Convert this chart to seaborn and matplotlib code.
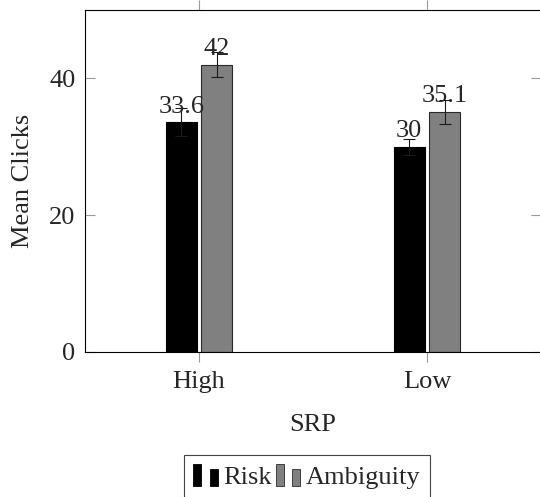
import matplotlib
matplotlib.use("Agg")
import matplotlib.pyplot as plt
import seaborn as sns
import pandas as pd
from matplotlib.legend_handler import HandlerBase
from matplotlib.patches import Rectangle

# ---- data ----
srp = ["High", "Low"]
conditions = ["Risk", "Ambiguity"]
risk_means = [33.6, 30.0]
ambiguity_means = [42.0, 35.1]
risk_err = [2.0, 1.2]
ambiguity_err = [1.8, 1.8]
risk_labels = ["33.6", "30"]
ambiguity_labels = ["42", "35.1"]
y_ticks = [0, 20, 40]

sns.set_style("white")
plt.rcParams['font.family'] = ['Liberation Serif', 'DejaVu Serif']

df = pd.DataFrame({
    "SRP": srp * 2,
    "Condition": ["Risk"] * len(srp) + ["Ambiguity"] * len(srp),
    "Mean": risk_means + ambiguity_means,
})
errs = {"Risk": risk_err, "Ambiguity": ambiguity_err}
labels = {"Risk": risk_labels, "Ambiguity": ambiguity_labels}
fills = {"Risk": "black", "Ambiguity": "#808080"}
edges = {"Risk": "black", "Ambiguity": "#2a2a2a"}

FS = 19
fig = plt.figure(figsize=(5.4, 4.97), dpi=100)
ax = fig.add_axes([85 / 540, 1 - 352 / 497, 456 / 540, 342 / 497])

sns.barplot(data=df, x="SRP", y="Mean", hue="Condition", hue_order=conditions,
            order=srp, palette=fills, width=0.312, gap=0.14, errorbar=None,
            legend=False, ax=ax, linewidth=0.8, saturation=1)

bar_containers = list(ax.containers)
for container, cond in zip(bar_containers, conditions):
    for b in container:
        b.set_edgecolor(edges[cond])
        b.set_linewidth(0.8)
    xs = [b.get_x() + b.get_width() / 2 for b in container]
    ys = [b.get_height() for b in container]
    ax.errorbar(xs, ys, yerr=errs[cond], fmt='none', ecolor='#1a1a1a',
                elinewidth=0.8, capsize=4, capthick=0.8, zorder=4)
    ax.bar_label(container, labels=labels[cond], padding=3.2, fontsize=FS, zorder=5)

ax.set_xlim(-0.5, 1.5)
ax.set_ylim(0, 50)
ax.set_yticks(y_ticks)
ax.set_xlabel("SRP", fontsize=FS, labelpad=15)
ax.set_ylabel("Mean Clicks", fontsize=FS, labelpad=11)

ax.tick_params(axis='y', which='both', direction='in', left=True, right=True,
               length=7, width=0.8, color='#999999', labelsize=FS, pad=7)
ax.tick_params(axis='x', which='both', direction='out', bottom=True, top=True,
               length=7, width=0.8, color='#999999', labelsize=FS, pad=7)
for s in ax.spines.values():
    s.set_visible(True)
    s.set_color('black')
    s.set_linewidth(0.8)


class TwoBarHandler(HandlerBase):
    def create_artists(self, legend, orig_handle, xdescent, ydescent, width,
                       height, fontsize, trans):
        fc = orig_handle.get_facecolor()
        ec = orig_handle.get_edgecolor()
        bw = width * 0.33
        r1 = Rectangle((-xdescent, -ydescent), bw, height, facecolor=fc,
                       edgecolor=ec, lw=0.6, transform=trans)
        r2 = Rectangle((-xdescent + width - bw, -ydescent), bw, height * 0.75,
                       facecolor=fc, edgecolor=ec, lw=0.6, transform=trans)
        return [r1, r2]


handles = [c.patches[0] for c in bar_containers]
leg = fig.legend(handles, conditions, handler_map={Rectangle: TwoBarHandler()},
                 loc='upper center', bbox_to_anchor=(307 / 540, 1 - 455 / 497),
                 ncol=2, frameon=True, fancybox=False, edgecolor='#444444',
                 framealpha=1, fontsize=FS, handlelength=0.92, handleheight=0.9,
                 handletextpad=0.22, columnspacing=0.15, borderpad=0.34,
                 borderaxespad=0)
leg.get_frame().set_linewidth(0.8)

fig.savefig("out.png", dpi=100)
